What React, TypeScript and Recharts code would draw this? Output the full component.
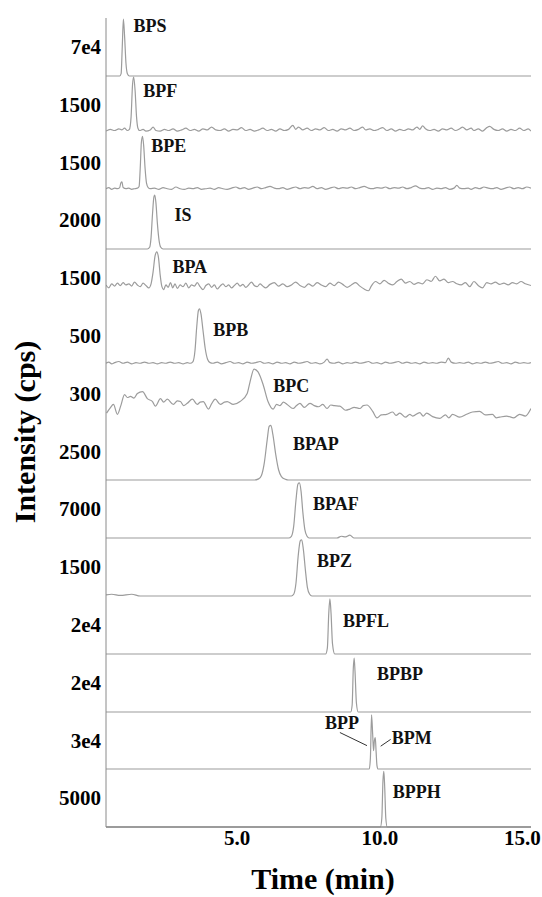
import { LineChart, Line, XAxis, YAxis, ReferenceDot, ReferenceLine } from "recharts";

const SERIF = "'Liberation Serif', 'Times New Roman', serif";

type Pt = [number, number]; // [time (min), % of panel full scale]

// full-scale intensity labels, top panel to bottom panel
const scaleLabels = ["7e4", "1500", "1500", "2000", "1500", "500", "300", "2500", "7000", "1500", "2e4", "2e4", "3e4", "5000"];
const timeTicks = [5, 10, 15];

const bps: Pt[] = [[0.4, 0], [0.88, 0], [0.93, 4], [0.97, 50], [1.01, 98], [1.05, 70], [1.1, 22], [1.15, 4], [1.22, 0], [15.3, 0]];

const bpf: Pt[] = [
  [0.4, 5], [0.55, 8], [0.7, 6], [0.85, 9], [0.95, 7], [1.05, 10], [1.15, 6], [1.22, 8], [1.28, 30], [1.33, 85], [1.37, 98],
  [1.42, 75], [1.47, 30], [1.52, 10], [1.58, 6], [1.7, 8], [1.8, 5], [1.95, 7], [2.05, 12], [2.15, 6], [2.3, 5], [2.45, 8],
  [2.6, 6], [2.75, 9], [2.9, 5], [3.05, 7], [3.2, 10], [3.35, 6], [3.5, 8], [3.65, 5], [3.8, 9], [3.95, 7], [4.1, 12], [4.25, 7],
  [4.4, 6], [4.55, 9], [4.7, 5], [4.85, 8], [5.0, 7], [5.15, 11], [5.3, 6], [5.45, 8], [5.6, 5], [5.75, 7], [5.9, 10], [6.05, 6],
  [6.2, 8], [6.35, 5], [6.5, 9], [6.65, 6], [6.8, 8], [6.95, 15], [7.05, 8], [7.15, 12], [7.3, 7], [7.45, 10], [7.6, 6], [7.75, 9],
  [7.9, 7], [8.05, 11], [8.2, 6], [8.35, 8], [8.5, 5], [8.65, 9], [8.8, 7], [8.95, 10], [9.1, 6], [9.25, 8], [9.4, 12], [9.5, 7],
  [9.65, 9], [9.8, 6], [9.95, 8], [10.1, 11], [10.25, 6], [10.4, 9], [10.55, 5], [10.7, 8], [10.85, 6], [11.0, 9], [11.15, 7],
  [11.3, 12], [11.4, 8], [11.5, 14], [11.6, 9], [11.75, 6], [11.9, 8], [12.05, 5], [12.2, 9], [12.35, 7], [12.5, 10], [12.65, 6],
  [12.8, 9], [12.9, 12], [13.05, 7], [13.2, 10], [13.3, 6], [13.45, 9], [13.6, 5], [13.75, 11], [13.85, 13], [14.0, 8], [14.15, 6],
  [14.3, 9], [14.45, 5], [14.6, 8], [14.75, 6], [14.9, 10], [15.05, 6], [15.2, 9], [15.3, 5],
];

const bpe: Pt[] = [
  [0.4, 4], [0.5, 6], [0.6, 3], [0.7, 5], [0.8, 4], [0.88, 6], [0.92, 14], [0.96, 16], [1.0, 6], [1.1, 4], [1.2, 5], [1.3, 3],
  [1.4, 4], [1.5, 5], [1.56, 8], [1.6, 40], [1.64, 85], [1.68, 96], [1.72, 80], [1.77, 40], [1.82, 14], [1.88, 6], [1.95, 4],
  [2.1, 5], [2.25, 3], [2.4, 6], [2.55, 4], [2.7, 3], [2.85, 7], [3.0, 4], [3.15, 3], [3.3, 5], [3.45, 4], [3.6, 6], [3.75, 3],
  [3.9, 4], [4.05, 5], [4.2, 3], [4.35, 6], [4.5, 4], [4.65, 3], [4.8, 5], [4.95, 7], [5.1, 4], [5.25, 6], [5.4, 3], [5.55, 5],
  [5.7, 7], [5.85, 4], [6.0, 6], [6.15, 8], [6.3, 5], [6.45, 4], [6.6, 6], [6.75, 3], [6.9, 5], [7.05, 7], [7.2, 4], [7.35, 6],
  [7.5, 5], [7.65, 8], [7.8, 4], [7.95, 6], [8.1, 3], [8.25, 5], [8.4, 7], [8.55, 4], [8.7, 6], [8.85, 5], [9.0, 7], [9.15, 4],
  [9.3, 6], [9.45, 8], [9.6, 5], [9.75, 4], [9.9, 6], [10.05, 5], [10.2, 7], [10.35, 4], [10.5, 6], [10.65, 5], [10.8, 7],
  [10.95, 4], [11.1, 6], [11.25, 9], [11.4, 5], [11.55, 4], [11.7, 6], [11.85, 3], [12.0, 5], [12.15, 4], [12.3, 6], [12.45, 3],
  [12.6, 5], [12.7, 10], [12.8, 5], [12.95, 4], [13.1, 5], [13.2, 3], [13.35, 6], [13.5, 4], [13.65, 7], [13.8, 5], [13.95, 4],
  [14.1, 6], [14.25, 3], [14.4, 5], [14.55, 7], [14.7, 4], [14.85, 6], [15.0, 4], [15.15, 7], [15.3, 5],
];

const is: Pt[] = [[0.4, 0], [1.85, 0], [1.93, 3], [1.98, 20], [2.03, 60], [2.08, 90], [2.11, 93], [2.15, 80], [2.2, 45], [2.26, 15], [2.32, 3], [2.4, 0], [15.3, 0]];

const bpa: Pt[] = [
  [0.4, 38], [0.5, 33], [0.6, 40], [0.7, 36], [0.8, 41], [0.9, 37], [1.0, 42], [1.1, 38], [1.2, 40], [1.3, 36], [1.4, 43],
  [1.5, 38], [1.6, 35], [1.7, 41], [1.8, 37], [1.9, 33], [1.98, 40], [2.05, 60], [2.12, 88], [2.18, 95], [2.24, 85], [2.3, 55],
  [2.36, 35], [2.42, 30], [2.5, 38], [2.58, 34], [2.66, 42], [2.74, 33], [2.82, 40], [2.9, 32], [3.0, 38], [3.1, 35], [3.2, 41],
  [3.3, 33], [3.4, 38], [3.5, 36], [3.6, 42], [3.7, 35], [3.8, 30], [3.9, 37], [4.0, 40], [4.1, 34], [4.2, 38], [4.3, 31],
  [4.4, 36], [4.5, 40], [4.6, 35], [4.7, 38], [4.8, 33], [4.9, 37], [5.0, 41], [5.1, 36], [5.2, 39], [5.3, 34], [5.4, 38],
  [5.5, 43], [5.6, 37], [5.7, 35], [5.8, 40], [5.9, 36], [6.0, 33], [6.15, 39], [6.3, 42], [6.45, 36], [6.6, 40], [6.75, 35],
  [6.9, 38], [7.05, 43], [7.2, 37], [7.35, 34], [7.5, 40], [7.65, 36], [7.8, 42], [7.95, 38], [8.1, 35], [8.25, 41], [8.4, 37],
  [8.55, 43], [8.7, 39], [8.85, 34], [9.0, 38], [9.15, 42], [9.3, 36], [9.45, 31], [9.6, 28], [9.7, 36], [9.85, 44], [10.0, 40],
  [10.15, 46], [10.3, 41], [10.45, 38], [10.6, 44], [10.75, 48], [10.9, 41], [11.05, 44], [11.2, 39], [11.35, 42], [11.5, 40],
  [11.65, 47], [11.8, 44], [11.95, 53], [12.1, 45], [12.25, 48], [12.4, 42], [12.55, 44], [12.7, 40], [12.85, 38], [13.0, 42],
  [13.15, 35], [13.3, 44], [13.45, 37], [13.6, 33], [13.75, 42], [13.9, 40], [14.05, 43], [14.2, 39], [14.35, 41], [14.5, 38],
  [14.65, 42], [14.8, 40], [14.95, 44], [15.1, 40], [15.3, 37],
];

const bpb: Pt[] = [
  [0.4, 3], [0.5, 5], [0.6, 2], [0.7, 4], [0.85, 6], [1.0, 3], [1.15, 5], [1.3, 2], [1.45, 4], [1.6, 3], [1.75, 5], [1.9, 3],
  [2.05, 4], [2.2, 2], [2.35, 4], [2.5, 3], [2.65, 5], [2.8, 3], [2.95, 4], [3.1, 2], [3.25, 4], [3.35, 3], [3.45, 6], [3.52, 25],
  [3.58, 65], [3.64, 94], [3.68, 97], [3.73, 88], [3.8, 60], [3.88, 28], [3.96, 10], [4.05, 4], [4.15, 3], [4.3, 5], [4.45, 2],
  [4.6, 4], [4.75, 6], [4.9, 3], [5.05, 4], [5.2, 2], [5.35, 5], [5.5, 3], [5.65, 4], [5.8, 6], [5.95, 3], [6.1, 4], [6.25, 2],
  [6.4, 5], [6.55, 3], [6.7, 4], [6.85, 2], [7.0, 5], [7.15, 3], [7.3, 4], [7.45, 6], [7.6, 3], [7.75, 4], [7.9, 2], [8.05, 5],
  [8.15, 10], [8.25, 4], [8.4, 3], [8.55, 5], [8.7, 2], [8.85, 4], [9.0, 3], [9.15, 5], [9.3, 3], [9.45, 4], [9.6, 6], [9.75, 3],
  [9.9, 4], [10.05, 2], [10.2, 5], [10.35, 3], [10.5, 4], [10.65, 6], [10.8, 3], [10.95, 5], [11.1, 3], [11.25, 4], [11.4, 2],
  [11.55, 5], [11.7, 3], [11.85, 4], [12.0, 3], [12.15, 5], [12.3, 4], [12.4, 12], [12.5, 5], [12.65, 3], [12.8, 4], [12.95, 3],
  [13.1, 5], [13.25, 2], [13.4, 4], [13.55, 3], [13.7, 5], [13.85, 3], [14.0, 4], [14.15, 6], [14.3, 3], [14.45, 4], [14.6, 2],
  [14.75, 5], [14.9, 3], [15.05, 4], [15.2, 3], [15.3, 4],
];

const bpc: Pt[] = [
  [0.42, 17], [0.55, 26], [0.66, 32], [0.8, 15], [0.92, 30], [1.05, 49], [1.15, 44], [1.26, 46], [1.38, 43], [1.5, 51],
  [1.68, 54], [1.85, 42], [2.03, 37], [2.13, 29], [2.31, 42], [2.42, 36], [2.55, 41], [2.76, 32], [2.9, 38], [3.01, 37],
  [3.12, 30], [3.25, 34], [3.43, 41], [3.6, 32], [3.7, 36], [3.81, 37], [3.99, 24], [4.1, 33], [4.23, 41], [4.41, 32],
  [4.55, 36], [4.65, 37], [4.86, 32], [5.1, 37], [5.35, 51], [5.45, 71], [5.59, 93], [5.73, 88], [5.91, 66], [6.08, 37],
  [6.26, 24], [6.38, 32], [6.5, 30], [6.62, 36], [6.75, 32], [6.96, 25], [7.08, 30], [7.2, 34], [7.35, 27], [7.55, 34],
  [7.7, 30], [7.85, 28], [8.0, 32], [8.15, 25], [8.28, 31], [8.4, 30], [8.6, 29], [8.8, 22], [8.95, 24], [9.1, 27], [9.3, 25],
  [9.42, 30], [9.55, 31], [9.75, 20], [9.9, 9], [10.05, 14], [10.24, 15], [10.45, 19], [10.57, 13], [10.7, 17], [10.9, 10],
  [11.05, 15], [11.15, 12], [11.4, 18], [11.52, 12], [11.64, 17], [11.85, 11], [12.1, 8], [12.3, 14], [12.42, 9], [12.55, 15],
  [12.8, 10], [13.04, 15], [13.25, 19], [13.5, 20], [13.7, 14], [13.95, 15], [14.08, 9], [14.2, 10], [14.44, 12], [14.7, 9],
  [14.9, 15], [15.1, 12], [15.3, 25],
];

const bpap: Pt[] = [[0.4, 0], [5.6, 0], [5.75, 2], [5.85, 8], [5.95, 30], [6.05, 70], [6.12, 94], [6.18, 96], [6.25, 80], [6.35, 45], [6.45, 18], [6.55, 6], [6.7, 1], [6.8, 0], [15.3, 0]];

const bpaf: Pt[] = [[0.4, 0], [6.8, 0], [6.9, 3], [6.98, 20], [7.06, 65], [7.13, 93], [7.18, 95], [7.24, 80], [7.3, 45], [7.37, 15], [7.45, 3], [7.52, 0], [8.5, 0], [8.65, 3], [8.8, 2], [8.95, 5], [9.1, 0], [15.3, 0]];

const bpz: Pt[] = [[0.4, 2], [0.6, 3], [0.9, 1], [1.3, 3], [1.6, 0], [6.9, 0], [6.98, 3], [7.06, 22], [7.14, 70], [7.21, 95], [7.26, 97], [7.32, 80], [7.39, 45], [7.46, 15], [7.54, 3], [7.62, 0], [15.3, 0]];

const bpfl: Pt[] = [[0.4, 0], [8.1, 0], [8.16, 10], [8.21, 70], [8.25, 95], [8.29, 70], [8.34, 18], [8.42, 0], [15.3, 0]];

const bpbp: Pt[] = [[0.4, 0], [8.98, 0], [9.03, 12], [9.07, 75], [9.1, 93], [9.13, 70], [9.18, 15], [9.24, 0], [15.3, 0]];

const bppm: Pt[] = [[0.4, 0], [9.63, 0], [9.67, 20], [9.71, 95], [9.75, 60], [9.78, 32], [9.81, 50], [9.84, 55], [9.87, 30], [9.9, 6], [9.94, 0], [15.3, 0]];

const bpph: Pt[] = [[0.4, 0], [10.02, 0], [10.07, 15], [10.11, 80], [10.14, 96], [10.17, 70], [10.21, 15], [10.26, 0], [15.3, 0]];

const traces = [bps, bpf, bpe, is, bpa, bpb, bpc, bpap, bpaf, bpz, bpfl, bpbp, bppm, bpph];

// peak tags: [panel, name, time at text start, % height of text centre]
const peakTags: [number, string, number, number][] = [
  [0, "BPS", 1.36, 86], [1, "BPF", 1.71, 75], [2, "BPE", 1.99, 79], [3, "IS", 2.8, 58], [4, "BPA", 2.73, 69],
  [5, "BPB", 4.16, 60], [6, "BPC", 6.26, 63], [7, "BPAP", 6.96, 63], [8, "BPAF", 7.66, 59], [9, "BPZ", 7.8, 60],
  [10, "BPFL", 8.71, 57], [11, "BPBP", 9.9, 66], [12, "BPP", 8.08, 81], [12, "BPM", 10.42, 55], [13, "BPPH", 10.45, 61],
];

// leader lines in the BPP/BPM panel: [panel, t1, y1, t2, y2]
const leaders: [number, number, number, number, number][] = [
  [12, 8.6, 64, 9.55, 41],
  [12, 10.03, 40, 10.38, 52],
];

const WIDTH = 542;
const TOP = 18;
const PANEL_H = 57.8;
const AXIS_W = 106;
const PAD = 12; // room above each panel so tags never clip
const TRACE = "#9c9c9c";
const FRAME = "#8a8a8a";

const tagRenderer = (text: string) => (props: any) => {
  const vb = props.viewBox || {};
  return (
    <text x={vb.x} y={vb.y} dominantBaseline="central" fontFamily={SERIF} fontWeight="bold" fontSize={18} fill="#111">
      {text}
    </text>
  );
};

function Panel({ index }: { index: number }) {
  const top = Math.round(TOP + index * PANEL_H);
  const bottom = Math.round(TOP + (index + 1) * PANEL_H);
  const last = index === traces.length - 1;
  const h = bottom - top + 1 + PAD + (last ? 30 : 0);
  const data = traces[index].map(([t, v]) => ({ t, v }));

  return (
    <div style={{ position: "absolute", left: 0, top: top - PAD }}>
      <LineChart width={WIDTH} height={h} data={data} margin={{ top: PAD, right: 11, bottom: 1, left: 0 }}>
        <XAxis
          type="number"
          dataKey="t"
          domain={[0.4, 15.3]}
          allowDataOverflow
          ticks={last ? timeTicks : []}
          tickFormatter={(v: number) => v.toFixed(1)}
          height={last ? 30 : 0}
          tick={last ? { fontSize: 21, fontWeight: "bold", fill: "#000", fontFamily: SERIF } : false}
          tickLine={false}
          tickSize={2}
          tickMargin={1}
          axisLine={{ stroke: FRAME, strokeWidth: 1.5 }}
        />
        <YAxis
          type="number"
          domain={[0, 100]}
          width={AXIS_W}
          ticks={[50]}
          tickFormatter={() => scaleLabels[index]}
          tick={{ fontSize: 21, fontWeight: "bold", fill: "#000", fontFamily: SERIF }}
          tickLine={false}
          tickSize={3}
          tickMargin={2}
          axisLine={{ stroke: FRAME, strokeWidth: 1 }}
        />
        <Line type="monotone" dataKey="v" stroke={TRACE} strokeWidth={1.2} dot={false} isAnimationActive={false} />
        {leaders
          .filter((l) => l[0] === index)
          .map((l, k) => (
            <ReferenceLine key={k} segment={[{ x: l[1], y: l[2] }, { x: l[3], y: l[4] }]} stroke="#333" strokeWidth={1} />
          ))}
        {peakTags
          .filter((p) => p[0] === index)
          .map((p) => (
            <ReferenceDot key={p[1]} x={p[2]} y={p[3]} r={0} fill="none" stroke="none" label={tagRenderer(p[1])} />
          ))}
      </LineChart>
    </div>
  );
}

export default function App() {
  return (
    <div style={{ position: "absolute", left: 0, top: 0, width: WIDTH, height: 897, background: "#fff" }}>
      {traces.map((_, i) => (
        <Panel key={i} index={i} />
      ))}
      <svg width={WIDTH} height={897} style={{ position: "absolute", left: 0, top: 0, pointerEvents: "none" }}>
        <text
          transform="translate(24, 432) rotate(-90)"
          textAnchor="middle"
          dominantBaseline="central"
          fontFamily={SERIF}
          fontWeight="bold"
          fontSize={30}
          fill="#000"
        >
          Intensity (cps)
        </text>
        <text x={323} y={889} textAnchor="middle" fontFamily={SERIF} fontWeight="bold" fontSize={30} fill="#000">
          Time (min)
        </text>
      </svg>
    </div>
  );
}
